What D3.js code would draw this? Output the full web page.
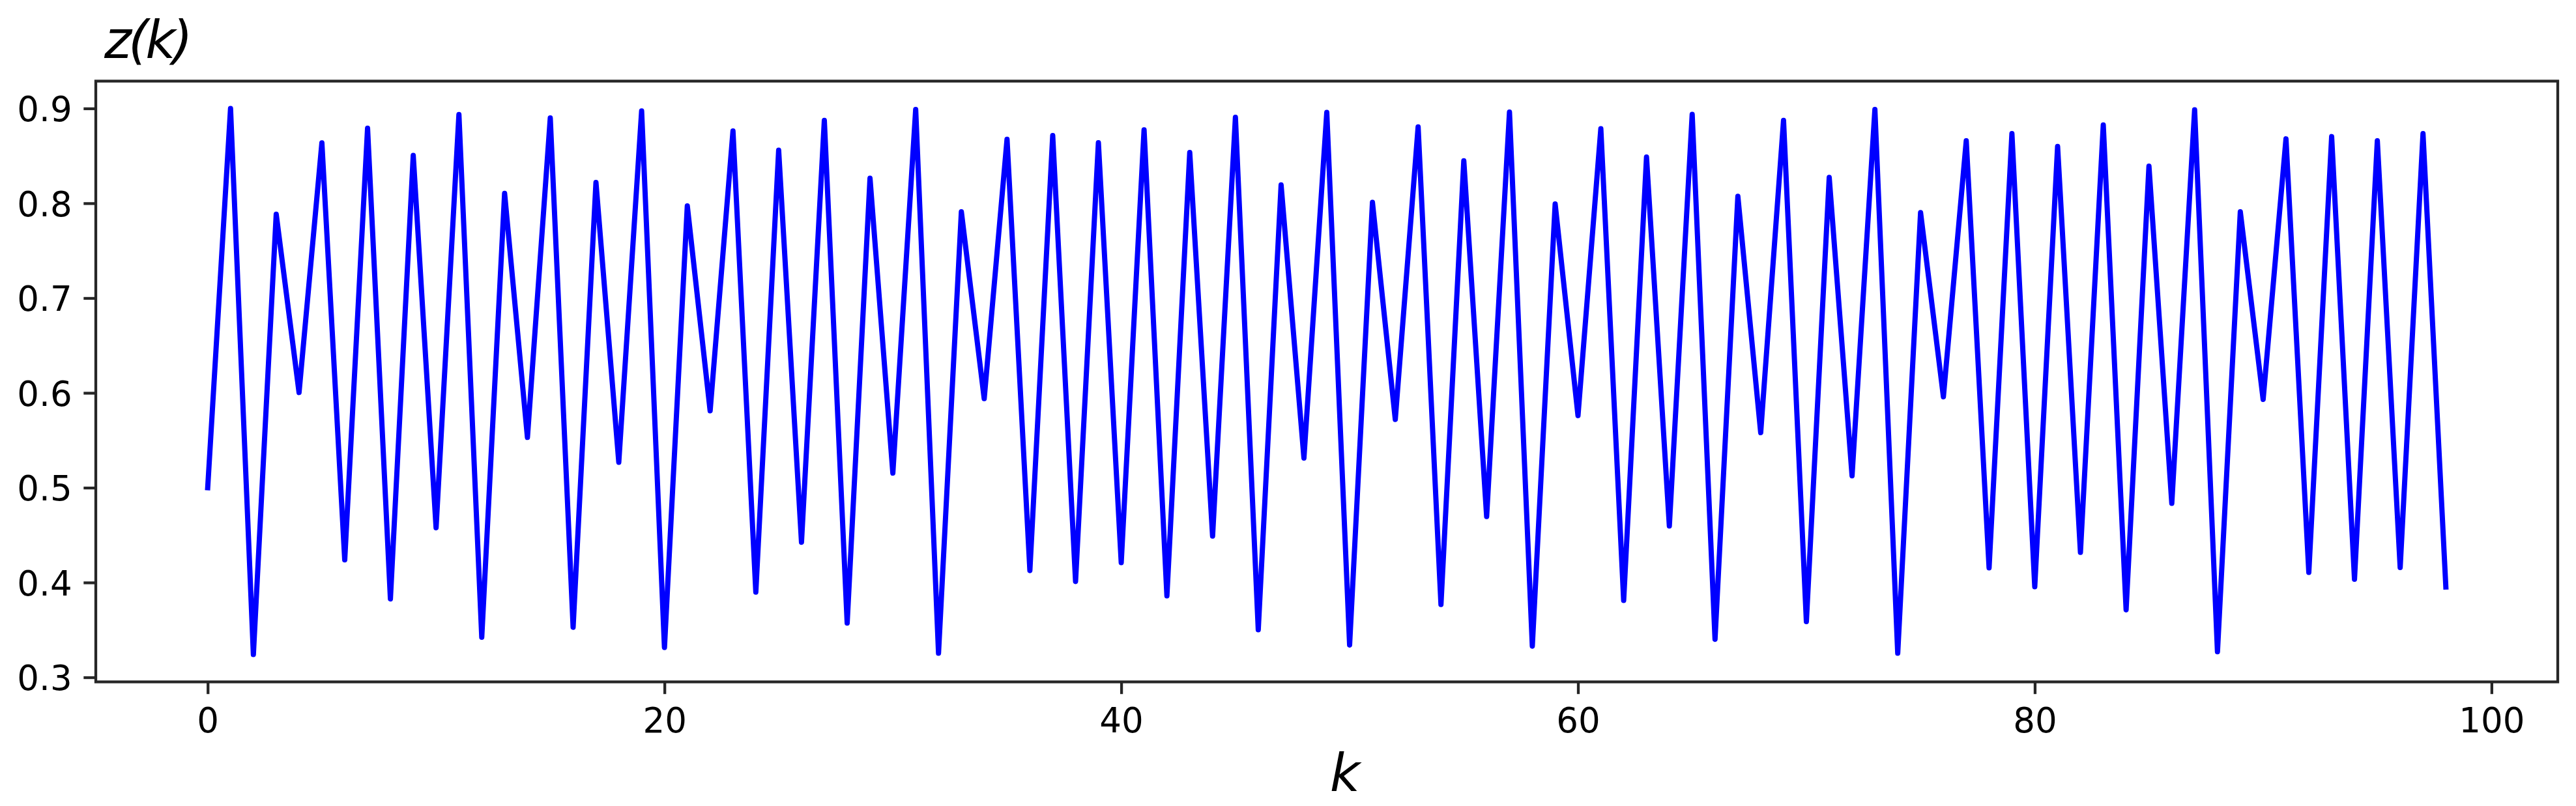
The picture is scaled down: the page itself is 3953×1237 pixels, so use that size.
<!DOCTYPE html>
<html>
<head>
<meta charset="utf-8">
<script src="https://cdn.jsdelivr.net/npm/d3@7"></script>
<style>
  body { margin: 0; background: #fff; }
  svg text { font-family: "DejaVu Sans", sans-serif; }
</style>
</head>
<body>
<div id="chart"></div>
<script>
// z(k), k = 0 .. 98
const zValues = [
  0.5, 0.9, 0.324, 0.7885, 0.6004, 0.8637, 0.4238, 0.8791, 0.3827, 0.8505,
  0.4578, 0.8936, 0.3423, 0.8105, 0.553, 0.8899, 0.3528, 0.822, 0.5268, 0.8974,
  0.3314, 0.7972, 0.5811, 0.8762, 0.3899, 0.8559, 0.4425, 0.8874, 0.3572, 0.8264,
  0.5154, 0.8989, 0.3254, 0.791, 0.5939, 0.8675, 0.4126, 0.8715, 0.4011, 0.8639,
  0.421, 0.8774, 0.3859, 0.8535, 0.4489, 0.8906, 0.3501, 0.8193, 0.5313, 0.8958,
  0.3341, 0.8009, 0.572, 0.8806, 0.3768, 0.8448, 0.4696, 0.8962, 0.3329, 0.7993,
  0.576, 0.8786, 0.3811, 0.8487, 0.4596, 0.8938, 0.3401, 0.8073, 0.558, 0.8874,
  0.3588, 0.8272, 0.5126, 0.8989, 0.3254, 0.7902, 0.5959, 0.8659, 0.4154, 0.8734,
  0.3955, 0.8599, 0.4317, 0.8826, 0.3712, 0.8392, 0.4835, 0.8985, 0.3269, 0.791,
  0.5931, 0.8679, 0.4106, 0.8703, 0.4034, 0.8659, 0.4158, 0.8734, 0.3953
]
const steps = d3.range(zValues.length)
const xTicks = [0, 20, 40, 60, 80, 100]
const yTicks = [0.3, 0.4, 0.5, 0.6, 0.7, 0.8, 0.9]

const W = 3953, H = 1237
const plot = {left: 147, right: 3925, top: 124.5, bottom: 1046.5}
const tickLen = 18.7, tickPad = 18.7, tickFont = 53

// matplotlib style 5% margins
function padded (lo, hi) {
  const m = (hi - lo) * 0.05
  return [lo - m, hi + m]
}

const x = d3.scaleLinear()
  .domain(padded(d3.min(steps), d3.max(steps)))
  .range([plot.left, plot.right])
const y = d3.scaleLinear()
  .domain(padded(d3.min(zValues), d3.max(zValues)))
  .range([plot.bottom, plot.top])

const svg = d3.select("#chart").append("svg")
  .attr("width", W)
  .attr("height", H)

svg.append("path")
  .datum(steps)
  .attr("fill", "none")
  .attr("stroke", "#0000ff")
  .attr("stroke-width", 8)
  .attr("stroke-linejoin", "round")
  .attr("stroke-linecap", "square")
  .attr("d", d3.line().x(d => x(d)).y(d => y(zValues[d])))

// axes, styled by hand to look like matplotlib
const xAxis = svg.append("g")
  .attr("transform", "translate(0," + plot.bottom + ")")
  .call(d3.axisBottom(x).tickValues(xTicks).tickSize(tickLen).tickPadding(tickPad).tickFormat(d3.format("d")))
const yAxis = svg.append("g")
  .attr("transform", "translate(" + plot.left + ",0)")
  .call(d3.axisLeft(y).tickValues(yTicks).tickSize(tickLen).tickPadding(tickPad).tickFormat(d3.format(".1f")))

for (const ax of [xAxis, yAxis]) {
  ax.select(".domain").remove()
  ax.selectAll(".tick line").attr("stroke", "#262626").attr("stroke-width", 4.3)
  ax.selectAll(".tick text")
    .attr("fill", "#000")
    .style("font-size", tickFont + "px")
}
xAxis.selectAll(".tick text").attr("dy", null).attr("y", tickLen + tickPad + 0.76 * tickFont)
yAxis.selectAll(".tick text").attr("dy", null).attr("y", 0.3645 * tickFont).attr("x", -tickLen - tickPad + 1)

// frame
svg.append("rect")
  .attr("x", plot.left)
  .attr("y", plot.top)
  .attr("width", plot.right - plot.left)
  .attr("height", plot.bottom - plot.top)
  .attr("fill", "none")
  .attr("stroke", "#262626")
  .attr("stroke-width", 4.3)

svg.append("text")
  .attr("x", 160)
  .attr("y", 89)
  .style("font-size", "80px")
  .style("font-style", "italic")
  .style("letter-spacing", "-5px")
  .text("z(k)")

svg.append("text")
  .attr("x", 2064)
  .attr("y", 1214)
  .attr("text-anchor", "middle")
  .style("font-size", "80px")
  .style("font-style", "italic")
  .text("k")
</script>
</body>
</html>
